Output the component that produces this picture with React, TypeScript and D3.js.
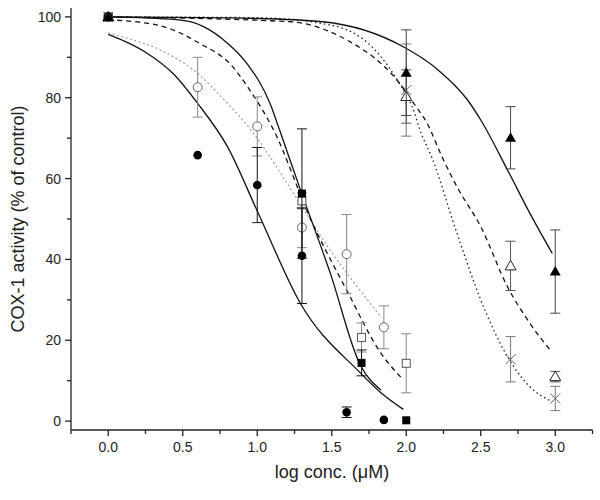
import * as d3 from "d3"

// measured points (log conc., % of control, error)
const fcX = [0, 0.6, 1.0, 1.3, 1.6, 1.85]
const fcY = [100, 65.8, 58.4, 40.9, 2.2, 0.3]
const fcE = [0, 0, 9.3, 11.8, 1.3, 0]

const ocX = [0, 0.6, 1.0, 1.3, 1.6, 1.85]
const ocY = [100, 82.6, 72.9, 47.9, 41.3, 23.2]
const ocE = [0, 7.4, 7.3, 5, 9.8, 5.3]

const fsX = [0, 1.3, 1.7, 2.0]
const fsY = [100, 56.3, 14.4, 0.2]
const fsE = [0, 16, 3.2, 0]

const osX = [0, 1.3, 1.7, 2.0]
const osY = [100, 54.5, 20.7, 14.3]
const osE = [0, 2, 3.6, 7.3]

const ftX = [0, 2.0, 2.7, 3.0]
const ftY = [100, 86.2, 70.1, 37.0]
const ftE = [0, 10.6, 7.7, 10.3]

const otX = [0, 2.0, 2.7, 3.0]
const otY = [100, 80.3, 38.4, 11.0]
const otE = [0, 6.6, 6.1, 1.3]

const xxX = [0, 2.0, 2.7, 3.0]
const xxY = [100, 81.9, 15.3, 5.6]
const xxE = [0, 11.4, 5.6, 3]

// fitted curves
const fitFC: [number, number][] = [
  [0, 95.7], [0.24, 91.5], [0.44, 85.8], [0.6, 78.6], [0.8, 67.9],
  [1.0, 52], [1.29, 29.1], [1.69, 12], [1.83, 7.0], [1.98, 2.9],
]
const fitFS: [number, number][] = [
  [0, 100], [0.46, 99.3], [0.64, 97.6], [0.8, 93.5], [0.93, 88.5],
  [1.09, 78.2], [1.15, 72.0], [1.29, 57.2], [1.49, 36.6], [1.69, 14],
  [1.83, 7.7],
]
const fitOC: [number, number][] = [
  [0, 96], [0.13, 94.7], [0.35, 91.8], [0.57, 86.9], [0.8, 78.6],
  [1.0, 70], [1.15, 61.7], [1.49, 42.3], [1.83, 25.8],
]
const fitOS: [number, number][] = [
  [0, 99.3], [0.35, 97.8], [0.62, 93.3], [0.82, 88.3], [0.95, 81.9],
  [1.11, 72], [1.36, 49.8], [1.6, 32.4], [1.83, 16.8], [1.97, 10.6],
]
const fitFT: [number, number][] = [
  [0, 100], [1.0, 99.6], [1.44, 98.8], [1.98, 92.6], [2.2, 87.3],
  [2.41, 79.5], [2.5, 74.5], [2.68, 62.1], [2.83, 51.4], [2.98, 41.5],
]
const fitOT: [number, number][] = [
  [0, 100], [1.22, 98.8], [1.62, 93.9], [1.83, 88.5], [1.91, 85.6],
  [2.05, 78.6], [2.14, 73.7], [2.24, 65.4], [2.34, 58], [2.5, 48.1],
  [2.68, 33.2], [2.83, 24.2], [2.97, 17.4],
]
const fitXX: [number, number][] = [
  [0, 100], [1.0, 99.8], [1.49, 98], [1.78, 92.2], [1.96, 83.2],
  [2.04, 77.8], [2.1, 71.2], [2.17, 65.4], [2.34, 46.5], [2.5, 30],
  [2.68, 15.9], [2.83, 8.5], [2.98, 4.8],
]

const xMajor = [0, 0.5, 1.0, 1.5, 2.0, 2.5, 3.0]
const xMinor = [-0.25, 0.25, 0.75, 1.25, 1.75, 2.25, 2.75, 3.25]
const yMajor = [0, 20, 40, 60, 80, 100]
const yMinor = [10, 30, 50, 70, 90]

const x = d3.scaleLinear().domain([-0.25, 3.25]).range([71, 592.5])
const y = d3.scaleLinear().domain([-2.2, 102.2]).range([430, 8])

const line = d3
  .line<[number, number]>()
  .x((d) => x(d[0]))
  .y((d) => y(d[1]))
  .curve(d3.curveMonotoneX)

const font = "'Liberation Sans', Arial, sans-serif"

type Shape = "fc" | "oc" | "fs" | "os" | "ft" | "ot" | "xx"

const Marker = ({ shape, cx, cy }: { shape: Shape; cx: number; cy: number }) => {
  switch (shape) {
    case "fc":
      return <circle cx={cx} cy={cy} r={4.3} fill="#000" />
    case "oc":
      return <circle cx={cx} cy={cy} r={4.5} fill="#fff" stroke="#666" strokeWidth={1} />
    case "fs":
      return <rect x={cx - 4} y={cy - 4} width={8} height={8} fill="#000" />
    case "os":
      return <rect x={cx - 4} y={cy - 4} width={8} height={8} fill="#fff" stroke="#555" strokeWidth={1} />
    case "ft":
      return <path d={`M${cx},${cy - 5.5}L${cx + 5.5},${cy + 4}L${cx - 5.5},${cy + 4}Z`} fill="#000" />
    case "ot":
      return (
        <path
          d={`M${cx},${cy - 5.5}L${cx + 5.5},${cy + 4}L${cx - 5.5},${cy + 4}Z`}
          fill="#fff"
          stroke="#222"
          strokeWidth={1}
        />
      )
    case "xx":
      return (
        <path
          d={`M${cx - 5},${cy - 5}L${cx + 5},${cy + 5}M${cx - 5},${cy + 5}L${cx + 5},${cy - 5}`}
          stroke="#666"
          strokeWidth={1}
          fill="none"
        />
      )
  }
}

const Series = ({
  xs, ys, es, shape, barColor,
}: { xs: number[]; ys: number[]; es: number[]; shape: Shape; barColor: string }) => (
  <g>
    {xs.map((v, i) =>
      es[i] > 0 ? (
        <g key={"e" + i} stroke={barColor} strokeWidth={1}>
          <line x1={x(v)} x2={x(v)} y1={y(ys[i] - es[i])} y2={y(ys[i] + es[i])} />
          <line x1={x(v) - 5} x2={x(v) + 5} y1={y(ys[i] - es[i])} y2={y(ys[i] - es[i])} />
          <line x1={x(v) - 5} x2={x(v) + 5} y1={y(ys[i] + es[i])} y2={y(ys[i] + es[i])} />
        </g>
      ) : null,
    )}
    {xs.map((v, i) => (
      <Marker key={"m" + i} shape={shape} cx={x(v)} cy={y(ys[i])} />
    ))}
  </g>
)

export default function App() {
  const y0 = y.range()[0]
  const x0 = x.range()[0]
  return (
    <div style={{ position: "absolute", left: 0, top: 0 }}>
      <svg width={600} height={500} style={{ display: "block", background: "#fff" }}>
        {/* fits */}
        <g fill="none">
          <path d={line(fitOC) ?? ""} stroke="#999" strokeWidth={1.1} strokeDasharray="2,2.5" />
          <path d={line(fitOS) ?? ""} stroke="#111" strokeWidth={1.3} strokeDasharray="5,4" />
          <path d={line(fitFC) ?? ""} stroke="#111" strokeWidth={1.3} />
          <path d={line(fitFS) ?? ""} stroke="#111" strokeWidth={1.3} />
          <path d={line(fitXX) ?? ""} stroke="#222" strokeWidth={1.3} strokeDasharray="1.5,3" />
          <path d={line(fitOT) ?? ""} stroke="#111" strokeWidth={1.3} strokeDasharray="5,4" />
          <path d={line(fitFT) ?? ""} stroke="#111" strokeWidth={1.3} />
        </g>

        {/* axes */}
        <g stroke="#222" strokeWidth={1.3}>
          <line x1={x0} x2={x0} y1={y.range()[1]} y2={y0} />
          <line x1={x0} x2={x.range()[1]} y1={y0} y2={y0} />
          {xMajor.map((t) => (
            <line key={"xM" + t} x1={x(t)} x2={x(t)} y1={y0} y2={y0 + 6} />
          ))}
          {xMinor.map((t) => (
            <line key={"xm" + t} x1={x(t)} x2={x(t)} y1={y0} y2={y0 + 4} />
          ))}
          {yMajor.map((t) => (
            <line key={"yM" + t} x1={x0 - 6} x2={x0} y1={y(t)} y2={y(t)} />
          ))}
          {yMinor.map((t) => (
            <line key={"ym" + t} x1={x0 - 4} x2={x0} y1={y(t)} y2={y(t)} />
          ))}
        </g>
        <g fontFamily={font} fontSize={14} fill="#222">
          {xMajor.map((t) => (
            <text key={"xl" + t} x={x(t)} y={y0 + 22} textAnchor="middle">
              {d3.format(".1f")(t)}
            </text>
          ))}
          {yMajor.map((t) => (
            <text key={"yl" + t} x={x0 - 10} y={y(t) + 5} textAnchor="end">
              {t}
            </text>
          ))}
        </g>
        <text x={332} y={478} textAnchor="middle" fontFamily={font} fontSize={18} fill="#222">
          log conc. (μM)
        </text>
        <text
          transform={`translate(24, ${y(50)}) rotate(-90)`}
          textAnchor="middle"
          fontFamily={font}
          fontSize={18}
          fill="#222"
        >
          COX-1 activity (% of control)
        </text>

        {/* data */}
        <Series xs={ocX} ys={ocY} es={ocE} shape="oc" barColor="#888" />
        <Series xs={osX} ys={osY} es={osE} shape="os" barColor="#888" />
        <Series xs={fcX} ys={fcY} es={fcE} shape="fc" barColor="#111" />
        <Series xs={fsX} ys={fsY} es={fsE} shape="fs" barColor="#111" />
        <Series xs={xxX} ys={xxY} es={xxE} shape="xx" barColor="#777" />
        <Series xs={otX} ys={otY} es={otE} shape="ot" barColor="#555" />
        <Series xs={ftX} ys={ftY} es={ftE} shape="ft" barColor="#444" />
      </svg>
    </div>
  )
}
